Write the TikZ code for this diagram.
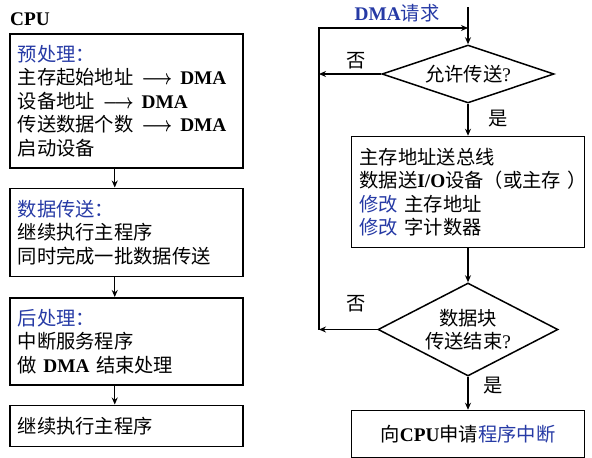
\documentclass[tikz,border=0pt]{standalone}
\usepackage{amsmath}
\usepackage{fontspec}
\setmainfont{Liberation Serif}
\newfontfamily\cjk{Noto Sans CJK SC}
\usetikzlibrary{positioning, shapes.geometric, arrows.meta}
\definecolor{hdblue}{RGB}{38,58,165}
\newcommand{\txt}{\cjk\fontsize{19.3}{23.5}\selectfont}
\newcommand{\en}[1]{{\rmfamily\bfseries #1}}
\newcommand{\hd}[1]{\textcolor{hdblue}{#1}}
\newcommand{\tomem}{\hspace{8pt}\scalebox{0.8}[1]{$\boldsymbol{\longrightarrow}$}\hspace{8pt}}

\begin{document}
\begin{tikzpicture}[x=1pt, y=-1pt,
      every node/.style={font=\txt},
      box/.style={draw, line width=1.5pt, text width=217pt, inner xsep=8pt, inner ysep=0pt, align=left},
      dec/.style={draw, diamond, line width=1.5pt, inner sep=0pt, align=center},
      arr/.style={-{Stealth[length=7pt,width=6pt]}, line width=1.4pt},
      lbl/.style={inner sep=0pt}
    ]
    \useasboundingbox (0,0) rectangle (592,458);
    % CPU side
    \node[lbl, anchor=west] (cpu) at (10,19) {\en{CPU}};
    \node[box, minimum height=134pt, anchor=north west] (pre) at (9,33) {\hd{预处理：}\\ 主存起始地址\tomem\en{DMA}\\ 设备地址\tomem\en{DMA}\\ 传送数据个数\tomem\en{DMA}\\ 启动设备};
    \node[box, minimum height=88pt] (run) [below=19pt of pre] {\hd{数据传送：}\\ 继续执行主程序\\ 同时完成一批数据传送};
    \node[box, minimum height=87pt] (post) [below=20pt of run] {\hd{后处理：}\\ 中断服务程序\\ 做 \en{DMA} 结束处理};
    \node[box, minimum height=41pt] (cont) [below=19pt of post] {继续执行主程序};
    \draw[arr] ([xshift=-11.5pt]pre.south) -- ([xshift=-11.5pt]run.north);
    \draw[arr] ([xshift=-11.5pt]run.south) -- ([xshift=-11.5pt]post.north);
    \draw[arr] ([xshift=-11.5pt]post.south) -- ([xshift=-11.5pt]cont.north);
    % DMA side
    \node[lbl, text=hdblue] (req) at (397,13) {\en{DMA}请求};
    \coordinate (top) at (468,7);
    \coordinate (join) at (468,28);
    \coordinate (loop) at (319,0);
    \node[dec, minimum width=172pt, minimum height=58pt, aspect=2.9] (allow) at (468,74) {允许传送{\rmfamily ?}};
    \node[box, minimum height=111pt] (bus) [below=32pt of allow] {主存地址送总线\\ \mbox{数据送\en{I/O}设备（或主存 ）}\\ \hd{修改} 主存地址\\ \hd{修改} 字计数器};
    \node[dec, minimum width=180pt, minimum height=93pt, aspect=1.9] (done) [below=34pt of bus] {数据块\\ 传送结束{\rmfamily ?}};
    \node[box, align=center, minimum height=47pt] (irq) [below=33pt of done] {向\en{CPU}申请\hd{程序中断}};
    \draw[arr] (top) -- (allow);
    \draw[arr] (allow) -- (bus);
    \draw[arr] (bus) -- (done);
    \draw[arr] (done) -- (irq);
    \draw[arr] (allow.west) -- (allow.west -| loop);
    \draw[arr] (done.west) -- (done.west -| loop);
    \draw[arr] (done.west -| loop) -- (loop |- join) -- (join);
    \node[lbl] (no1) at (356,61) {否};
    \node[lbl] (yes1) at (498,119) {是};
    \node[lbl] (no2) at (356,304) {否};
    \node[lbl] (yes2) at (493,386) {是};
  \end{tikzpicture}
\end{document}
